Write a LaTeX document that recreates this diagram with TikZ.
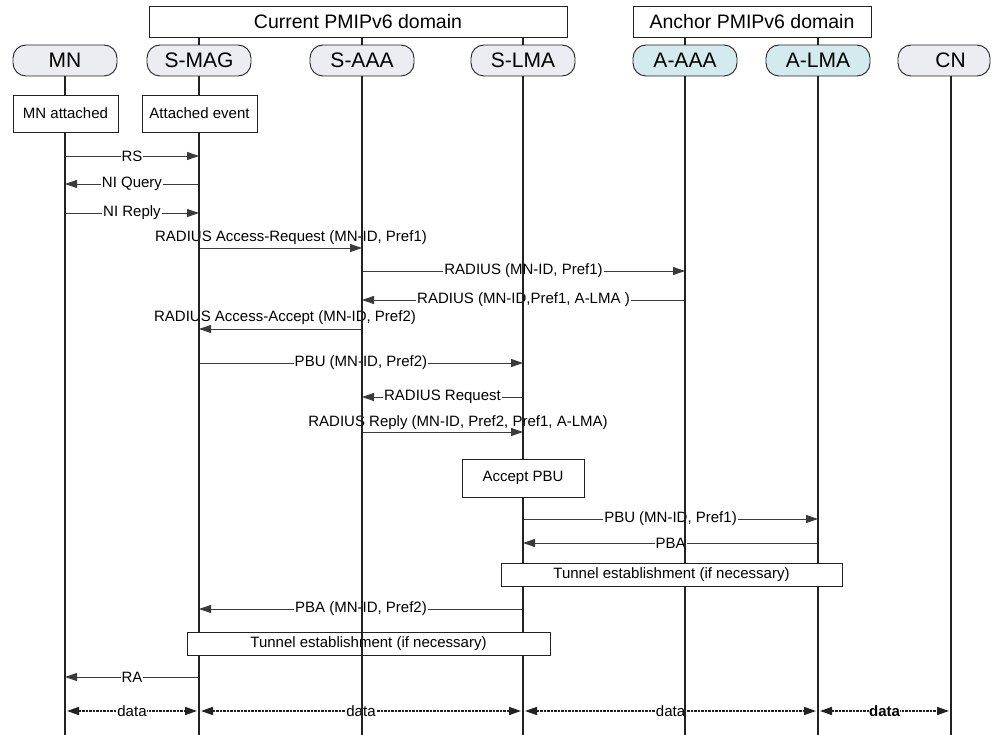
\documentclass[tikz,border=0pt]{standalone}
\usepackage{fontspec}
\setmainfont{Liberation Sans}
\usetikzlibrary{arrows.meta,calc}
\definecolor{pgray}{HTML}{ECEDF3}
\definecolor{pcyan}{HTML}{D3EBEE}
\definecolor{ln}{HTML}{222222}
\definecolor{mline}{HTML}{3A3A3A}
\begin{document}
\begin{tikzpicture}[x=1pt,y=-1pt,
 part/.style={draw=ln, line width=0.9pt, rounded corners=13pt, minimum width=104pt, minimum height=31pt, inner sep=0pt, font=\fontsize{21}{24}\selectfont, fill=pgray},
 dom/.style={draw=ln, line width=0.9pt, minimum height=31pt, inner sep=0pt, font=\fontsize{19.5}{23}\selectfont},
 evbox/.style={draw=ln, fill=white, line width=0.9pt, inner sep=0pt, font=\fontsize{15}{18}\selectfont},
 msg/.style={draw=mline, line width=0.9pt, -{Triangle[length=12pt,width=8pt]}},
 lbl/.style={fill=white, inner sep=1pt, font=\fontsize{15}{18}\selectfont},
 toplbl/.style={inner sep=0pt, font=\fontsize{15}{18}\selectfont},
 life/.style={draw=ln, line width=1.1pt},
 dataline/.style={draw=ln, line width=1.5pt, dash pattern=on 2.5pt off 1pt, {Triangle[length=12pt,width=8pt]}-{Triangle[length=12pt,width=8pt]}, shorten <=2pt, shorten >=2pt}
]
\useasboundingbox (0,0) rectangle (993,735);
\coordinate (bot) at (0,735);
% domains
\node[dom, minimum width=418pt] (cur) at (358,21.5) {Current PMIPv6 domain};
\node[dom, minimum width=238pt] (anc) at (752,21.5) {Anchor PMIPv6 domain};
% participants
\node[part] (mn) at (65,60.5) {MN};
\node[part] (smag) at (199,60.5) {S-MAG};
\node[part] (saaa) at (362,60.5) {S-AAA};
\node[part] (slma) at (523,60.5) {S-LMA};
\node[part, fill=pcyan] (aaaa) at (685,60.5) {A-AAA};
\node[part, fill=pcyan] (alma) at (818,60.5) {A-LMA};
\node[part, minimum width=92pt] (cn) at (944,60.5) {\hspace*{13pt}CN};
\coordinate (cnl) at (951,76);
% domain connectors
\draw[life] (cur.south -| smag) -- (smag.north);
\draw[life] (cur.south -| saaa) -- (saaa.north);
\draw[life] (cur.south -| slma) -- (slma.north);
\draw[life] (anc.south -| aaaa) -- (aaaa.north);
\draw[life] (anc.south -| alma) -- (alma.north);
% rows
\coordinate (r1) at (0,156);
\coordinate (r2) at (0,184);
\coordinate (r3) at (0,213);
\coordinate (r4) at (0,248);
\coordinate (r5) at (0,271);
\coordinate (r6) at (0,300);
\coordinate (r7) at (0,329);
\coordinate (r8) at (0,363);
\coordinate (r9) at (0,397);
\coordinate (r10) at (0,432);
\coordinate (r11) at (0,519);
\coordinate (r12) at (0,543);
\coordinate (r13) at (0,609);
\coordinate (r14) at (0,677);
\coordinate (rd) at (0,711);
% messages
\draw[msg] (mn |- r1) -- (smag |- r1) node[lbl, midway] (m1) {RS};
\draw[msg] (smag |- r2) -- (mn |- r2) node[lbl, midway] (m2) {NI Query};
\draw[msg] (mn |- r3) -- (smag |- r3) node[lbl, midway] (m3) {NI Reply};
\draw[msg] (smag |- r4) -- (saaa |- r4);
\node[toplbl] (m4) at (291,238) {RADIUS Access-Request (MN-ID, Pref1)};
\draw[msg] (saaa |- r5) -- (aaaa |- r5) node[lbl, midway] (m5) {RADIUS (MN-ID, Pref1)};
\draw[msg] (aaaa |- r6) -- (saaa |- r6) node[lbl, midway] (m6) {RADIUS (MN-ID,Pref1, A-LMA )};
\draw[msg] (saaa |- r7) -- (smag |- r7);
\node[toplbl] (m7) at (285,318) {RADIUS Access-Accept (MN-ID, Pref2)};
\draw[msg] (smag |- r8) -- (slma |- r8) node[lbl, midway] (m8) {PBU (MN-ID, Pref2)};
\draw[msg] (slma |- r9) -- (saaa |- r9) node[lbl, midway] (m9) {RADIUS Request};
\draw[msg] (saaa |- r10) -- (slma |- r10);
\node[toplbl] (m10) at (458,423) {RADIUS Reply (MN-ID, Pref2, Pref1, A-LMA)};
\draw[msg] (slma |- r11) -- (alma |- r11) node[lbl, midway] (m11) {PBU (MN-ID, Pref1)};
\draw[msg] (alma |- r12) -- (slma |- r12) node[lbl, midway] (m12) {PBA};
\draw[msg] (slma |- r13) -- (smag |- r13) node[lbl, midway] (m13) {PBA (MN-ID, Pref2)};
\draw[msg] (smag |- r14) -- (mn |- r14) node[lbl, midway] (m14) {RA};
% data
\draw[dataline] (mn |- rd) -- (smag |- rd) node[lbl, midway, inner sep=0.5pt] (d1) {data};
\draw[dataline] (smag |- rd) -- (slma |- rd) node[lbl, midway, inner sep=0.5pt] (d2) {data};
\draw[dataline] (slma |- rd) -- (alma |- rd) node[lbl, midway, inner sep=0.5pt] (d3) {data};
\draw[dataline] (alma |- rd) -- (cnl |- rd) node[lbl, midway, inner sep=0.5pt, font=\fontsize{15}{18}\selectfont\bfseries] (d4) {data};
% lifelines
\foreach \n in {mn,smag,saaa,slma,aaaa,alma} \draw[life] (\n.south) -- (\n.south |- bot);
\draw[life] (cnl) -- (cnl |- bot);
% event boxes
\node[evbox, minimum width=105pt, minimum height=37pt] (mnatt) at (65.5,113.5) {MN attached};
\node[evbox, minimum width=115pt, minimum height=37pt] (attev) at (199.5,113.5) {Attached event};
\node[evbox, minimum width=122pt, minimum height=38pt] (acc) at (523,478) {Accept PBU};
\node[evbox, minimum width=341pt, minimum height=23pt] (tun1) at (671.5,574.5) {Tunnel establishment (if necessary)};
\node[evbox, minimum width=363pt, minimum height=23pt] (tun2) at (368.5,643.5) {Tunnel establishment (if necessary)};
\draw[life] (tun2.north -| saaa) -- (tun2.south -| saaa);
\end{tikzpicture}
\end{document}
